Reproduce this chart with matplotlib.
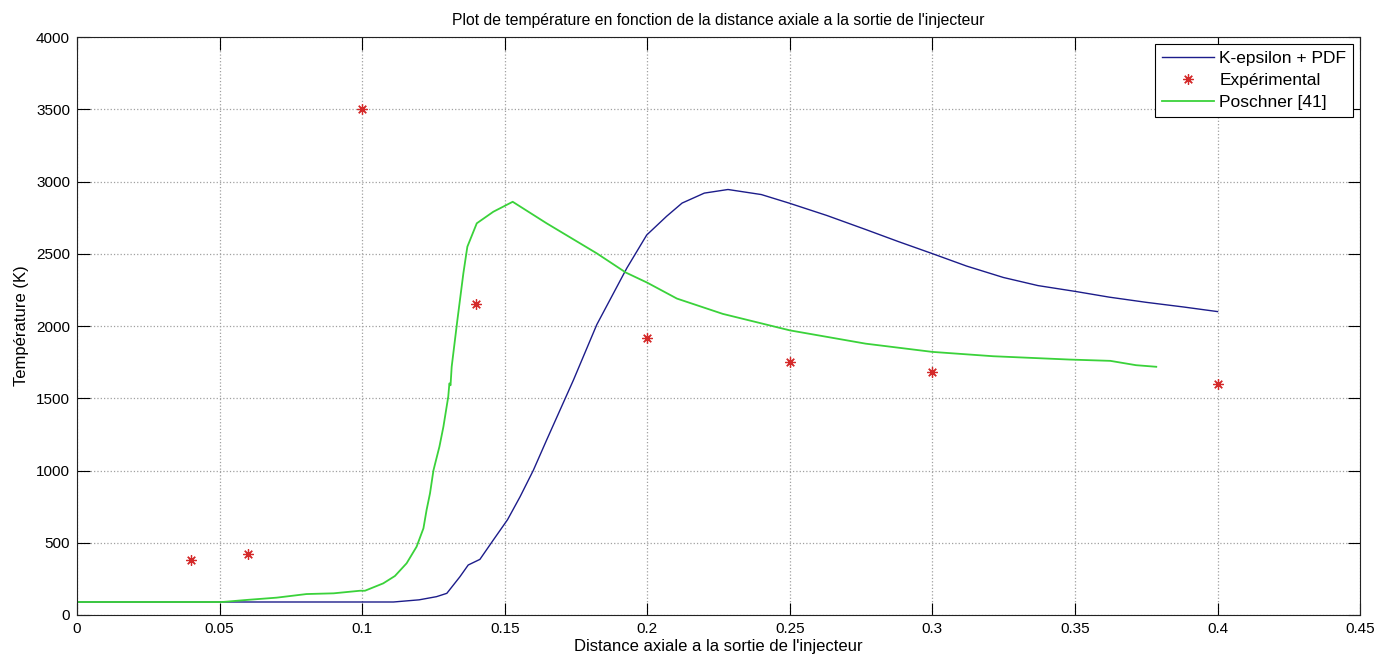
import matplotlib
matplotlib.use("Agg")
import matplotlib.pyplot as plt

plt.rcParams['font.family'] = ['Liberation Sans', 'DejaVu Sans']

# Experimental measurements
exp_x = [0.04, 0.06, 0.10, 0.14, 0.20, 0.25, 0.30, 0.40]
exp_T = [380, 420, 3500, 2150, 1920, 1750, 1680, 1600]

# K-epsilon + PDF simulation
ke_x = [0, 0.111, 0.120, 0.1261, 0.1297, 0.1343, 0.1372, 0.1413, 0.146, 0.1510,
        0.1554, 0.1600, 0.1647, 0.1741, 0.1823, 0.1928, 0.1998, 0.2068, 0.2122,
        0.2200, 0.2283, 0.2400, 0.2497, 0.2630, 0.2766, 0.2880, 0.300, 0.3120,
        0.3249, 0.3370, 0.350, 0.3620, 0.375, 0.3880, 0.400]
ke_T = [90, 90, 105, 127, 150, 265, 346, 385, 519, 660,
        819, 1000, 1211, 1626, 2010, 2400, 2630, 2760, 2851,
        2920, 2945, 2910, 2851, 2765, 2668, 2585, 2501, 2415,
        2336, 2280, 2240, 2200, 2164, 2132, 2100]

# Poschner [41]
po_x = [0, 0.051, 0.060, 0.070, 0.0805, 0.090, 0.0993, 0.101, 0.1074, 0.1115,
        0.1156, 0.1191, 0.1215, 0.1226, 0.1238, 0.1250, 0.1255, 0.1271, 0.1285,
        0.1302, 0.1306, 0.1310, 0.1314, 0.1334, 0.1355, 0.1369, 0.1402, 0.146,
        0.1528, 0.1647, 0.1823, 0.1925, 0.200, 0.2104, 0.2265, 0.250, 0.2766,
        0.300, 0.3213, 0.3481, 0.3624, 0.3714, 0.3785]
po_T = [90, 90, 105, 120, 145, 150, 168, 168, 219, 270,
        358, 473, 600, 727, 842, 1000, 1040, 1165, 1303,
        1511, 1603, 1590, 1718, 2041, 2365, 2549, 2711, 2791,
        2860, 2711, 2503, 2370, 2300, 2190, 2084, 1970, 1878,
        1821, 1791, 1768, 1759, 1729, 1718]

x_ticks = [0, 0.05, 0.1, 0.15, 0.2, 0.25, 0.3, 0.35, 0.4, 0.45]
x_tick_labels = ['0', '0.05', '0.1', '0.15', '0.2', '0.25', '0.3', '0.35', '0.4', '0.45']
y_ticks = [0, 500, 1000, 1500, 2000, 2500, 3000, 3500, 4000]

fig = plt.figure(figsize=(13.95, 6.62), dpi=100)
ax = fig.add_axes([0.0552, 0.071, 0.9198, 0.873])

ax.plot(ke_x, ke_T, color='#1c1c8a', lw=1.0, label='K-epsilon + PDF')
ax.plot(exp_x, exp_T, linestyle='none', marker=(8, 2, 0), color='#d42a2a',
        markersize=7.5, markeredgewidth=0.9, label='Expérimental')
ax.plot(po_x, po_T, color='#3ad23a', lw=1.3, label='Poschner [41]')

ax.set_xlim(0, 0.45)
ax.set_ylim(0, 4000)
ax.set_xticks(x_ticks)
ax.set_xticklabels(x_tick_labels)
ax.set_yticks(y_ticks)

ax.grid(True, linestyle=':', color='#a0a0a0', lw=0.9)
ax.tick_params(direction='in', length=9, width=0.8, top=True, right=True,
               labelsize=11, pad=5)
for s in ax.spines.values():
    s.set_linewidth(0.8)
    s.set_color('#222222')

ax.set_title("Plot de température en fonction de la distance axiale a la sortie de l'injecteur",
             fontsize=11.3, pad=9)
ax.set_xlabel("Distance axiale a la sortie de l'injecteur", fontsize=12, labelpad=2)
ax.set_ylabel("Température (K)", fontsize=12, labelpad=5)

leg = ax.legend(loc='upper right', fontsize=12.5, fancybox=False, framealpha=1,
                edgecolor='black', borderaxespad=0.4, handlelength=3.0,
                handletextpad=0.3, labelspacing=0.4, borderpad=0.4)
leg.get_frame().set_linewidth(0.8)

fig.savefig('out.png', dpi=100)
